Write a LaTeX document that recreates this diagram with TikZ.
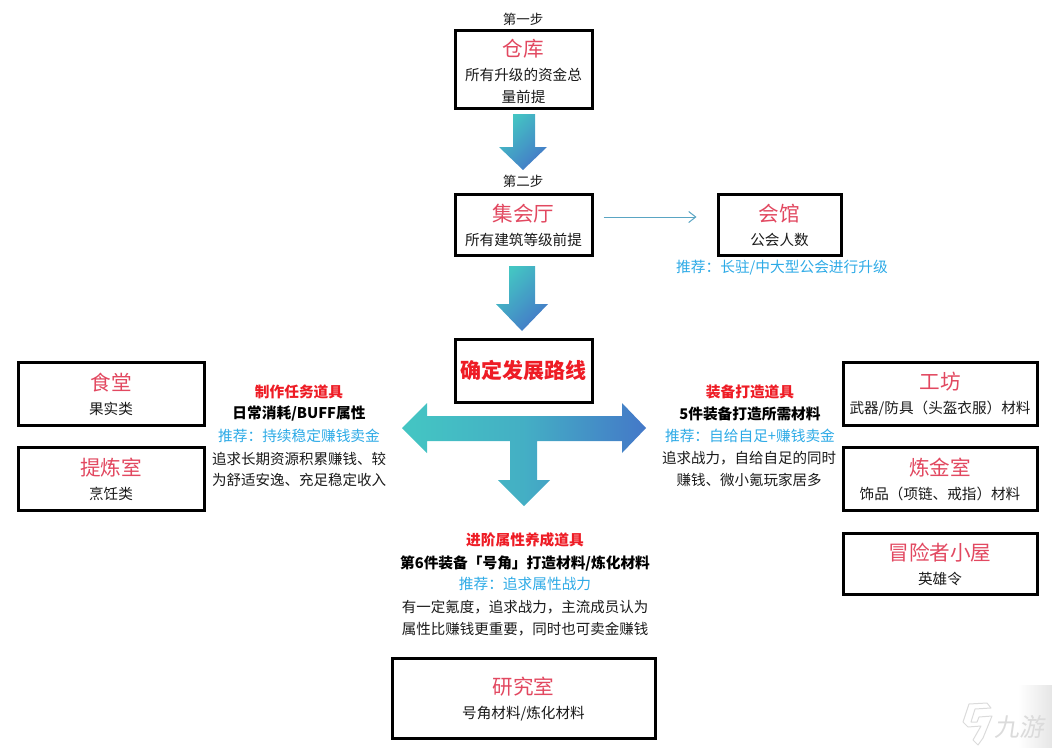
\documentclass[tikz,border=0pt]{standalone}
\usepackage{fontspec}
\setmainfont{Noto Sans CJK SC}
\usetikzlibrary{calc,arrows.meta}
\definecolor{tred}{RGB}{226,72,96}
\definecolor{bred}{RGB}{238,28,37}
\definecolor{rec}{RGB}{45,170,230}
\definecolor{txt}{RGB}{25,25,25}
\definecolor{teal1}{RGB}{68,198,195}
\definecolor{blue1}{RGB}{68,120,200}
\definecolor{conn}{RGB}{90,165,195}
\newcommand{\ttl}[1]{{\fontsize{20.6}{22}\selectfont\color{tred}\rule{0pt}{19.5pt}#1}}
\newcommand{\sbt}{\fontsize{14.6}{22}\selectfont}
\tikzset{
 x=1pt,y=-1pt,
 bx/.style={draw=black,line width=3pt,fill=white,inner sep=0pt,align=center,text=txt,font=\sbt},
 lbl/.style={inner sep=0pt,align=center,text=txt,font=\fontsize{13.5}{15}\selectfont},
 hd/.style={inner sep=0pt,text=bred,font=\fontsize{14.7}{15}\selectfont\bfseries},
 rc/.style={inner sep=0pt,text=rec,font=\fontsize{14.7}{15}\selectfont},
 bd/.style={inner sep=0pt,text=black,font=\fontsize{14.7}{15}\selectfont\bfseries},
 pl/.style={inner sep=0pt,text=txt,font=\fontsize{14.5}{15}\selectfont},
 blockarrow/.style={left color=teal1,right color=blue1,shading angle=45,draw=none},
}
\begin{document}
\begin{tikzpicture}
\useasboundingbox (0,0) rectangle (1052,747);
% watermark shading
\shade[left color=white,right color=black!10,draw=none] (1018,685) rectangle (1052,747);

\node[lbl] (s1) at (523,19) {第一步};
\node[bx,minimum width=137pt,minimum height=78pt] (ck) at (523.5,69) {\rule{0pt}{22pt}\ttl{仓库}\\[2pt]所有升级的资金总\\量前提};
\node[lbl] (s2) at (523,181) {第二步};
\node[bx,minimum width=137pt,minimum height=61pt] (jh) at (523.5,224.5) {\ttl{集会厅}\\[2pt]所有建筑等级前提};
\node[bx,minimum width=123pt,minimum height=61pt] (hg) at (779.5,224.5) {\ttl{会馆}\\[2pt]公会人数};
\node[rc] (hgr) at (782,268) {推荐：长驻/中大型公会进行升级};
\node[bx,minimum width=137pt,minimum height=63pt,font=\fontsize{21}{22}\selectfont\bfseries,text=bred] (lx) at (523.5,370.5) {确定发展路线};

\node[bx,minimum width=186pt,minimum height=63pt] (st) at (111,393.5) {\ttl{食堂}\\[2pt]果实类};
\node[bx,minimum width=186pt,minimum height=63pt] (tl) at (111,478.5) {\ttl{提炼室}\\[2pt]烹饪类};
\node[bx,minimum width=194pt,minimum height=63pt] (gf) at (940,393.5) {\ttl{工坊}\\[2pt]武器/防具（头盔衣服）材料};
\node[bx,minimum width=194pt,minimum height=63pt] (lj) at (940,478.5) {\ttl{炼金室}\\[2pt]饰品（项链、戒指）材料};
\node[bx,minimum width=194pt,minimum height=61pt] (mx) at (940,563.5) {\ttl{冒险者小屋}\\[2pt]英雄令};
\node[bx,minimum width=263pt,minimum height=80pt] (yj) at (523.5,698) {\ttl{研究室}\\[2pt]号角材料/炼化材料};

% left column
\node[hd] (l1) at (299,392) {制作任务道具};
\node[bd] (l2) at (299,414) {日常消耗/BUFF属性};
\node[rc] (l3) at (299,436) {推荐：持续稳定赚钱卖金};
\node[pl] (l4) at (299,459) {追求长期资源积累赚钱、较};
\node[pl] (l5) at (299,480) {为舒适安逸、充足稳定收入};
% right column
\node[hd] (r1) at (750,392) {装备打造道具};
\node[bd] (r2) at (750,414) {5件装备打造所需材料};
\node[rc] (r3) at (750,436) {推荐：自给自足+赚钱卖金};
\node[pl] (r4) at (749,458) {追求战力，自给自足的同时};
\node[pl] (r5) at (749,480) {赚钱、微小氪玩家居多};
% bottom column
\node[hd] (b1) at (525,540) {进阶属性养成道具};
\node[bd] (b2) at (525,563) {第6件装备「号角」打造材料/炼化材料};
\node[rc] (b3) at (525,584) {推荐：追求属性战力};
\node[pl] (b4) at (525,607) {有一定氪度，追求战力，主流成员认为};
\node[pl] (b5) at (525,629) {属性比赚钱更重要，同时也可卖金赚钱};

% block arrows
\shade[blockarrow] (513,114) -- (535,114) -- (535,147) -- (547,147) -- (523,170) -- (499,147) -- (513,147) -- cycle;
\shade[blockarrow] (509,266) -- (535,266) -- (535,304) -- (548,304) -- (522,331) -- (496,304) -- (509,304) -- cycle;
\shade[left color=teal1,right color=blue1,middle color=teal1!70!blue1,draw=none]
  (402,428) -- (427,403) -- (427,416) -- (622,416) -- (622,403) -- (646,428) -- (622,453) -- (622,441)
  -- (537,441) -- (537,480) -- (550,480) -- (524,506) -- (498,480) -- (510,480) -- (510,441) -- (427,441) -- (427,453) -- cycle;

% thin connector
\draw[conn,line width=1pt,-{Straight Barb[length=7pt,width=11pt]},shorten <=10pt,shorten >=20pt]
  ([yshift=7.5pt]jh.east) -- ([yshift=7.5pt]hg.west);

% watermark
\draw[black!14,line width=1pt,line join=round] (969,704) -- (987,703) -- (991,708) -- (975,709) -- (971,722) -- (977,722) -- (979,717) -- (992,716) -- (983,738) -- (978,745) -- (973,740) -- (981,726) -- (968,727) -- (963,722) -- cycle;
\node[inner sep=0pt,text=black!14,font=\fontsize{25}{25}\selectfont\itshape,xslant=0.15] (wm) at (1021,727) {九游};
\end{tikzpicture}
\end{document}
